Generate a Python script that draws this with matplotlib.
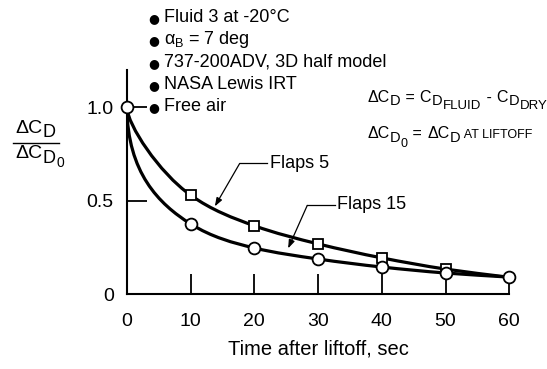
import matplotlib
matplotlib.use("Agg")
import matplotlib.pyplot as plt
from matplotlib.path import Path
from matplotlib.patches import PathPatch
from matplotlib.lines import Line2D

plt.rcParams["font.family"] = ["Liberation Sans", "DejaVu Sans"]
plt.rcParams["mathtext.fontset"] = "custom"
plt.rcParams["mathtext.rm"] = "Liberation Sans"
plt.rcParams["mathtext.it"] = "Liberation Sans"

# data
time_s = [0, 10, 20, 30, 40, 50, 60]
flaps5 = [1.0, 0.53, 0.366, 0.269, 0.194, 0.134, 0.09]
flaps15 = [1.0, 0.376, 0.247, 0.188, 0.145, 0.113, 0.091]
x_ticks = [0, 10, 20, 30, 40, 50, 60]
y_ticks = [0, 0.5, 1.0]
y_ticklabels = ["0", "0.5", "1.0"]
notes = ["Fluid 3 at -20°C", r"$\alpha_B$ = 7 deg", "737-200ADV, 3D half model",
         "NASA Lewis IRT", "Free air"]

W, H = 547, 369


def smooth_path(x, y, bend):
    """Bezier curve through the points; steep first segment like the hand-drawn original."""
    n = len(x)
    d = [(y[i + 1] - y[i]) / (x[i + 1] - x[i]) for i in range(n - 1)]
    m = [d[0]] + [2 * d[i - 1] * d[i] / (d[i - 1] + d[i]) for i in range(1, n - 1)] + [d[-1]]
    verts, codes = [(x[0], y[0])], [Path.MOVETO]
    for i in range(n - 1):
        h = x[i + 1] - x[i]
        if i == 0:
            c1 = (x[0] + 0.01 * h, y[0] + bend * (y[1] - y[0]))
            c2 = (x[1] - 0.5 * h, y[1] - 0.5 * h * m[1])
        else:
            c1 = (x[i] + h / 3, y[i] + h / 3 * m[i])
            c2 = (x[i + 1] - h / 3, y[i + 1] - h / 3 * m[i + 1])
        verts += [c1, c2, (x[i + 1], y[i + 1])]
        codes += [Path.CURVE4] * 3
    return Path(verts, codes)


def runs(x, base, pieces):
    """Write text pieces one after another; x, base and offsets in pixels from top-left."""
    r = fig.canvas.get_renderer()
    for s, size, dy in pieces:
        t = fig.text(x / W, 1 - (base + dy) / H, s, fontsize=size, va="baseline")
        x = t.get_window_extent(r).x1 + 0.5


fig = plt.figure(figsize=(W / 100, H / 100), dpi=100)
ax = fig.add_axes([0.232, 0.203, 0.699, 0.607])

for ys, bend in ((flaps5, 0.2), (flaps15, 0.56)):
    ax.add_patch(PathPatch(smooth_path(time_s, ys, bend), fill=False, lw=2.3,
                           color="black", capstyle="round", zorder=2))

ax.plot(time_s, flaps5, ls="none", marker="s", ms=7.5, mfc="white", mec="black",
        mew=1.3, markevery=[1, 2, 3, 4, 5], zorder=3, clip_on=False)
ax.plot(time_s, flaps15, ls="none", marker="o", ms=8.5, mfc="white", mec="black",
        mew=1.3, zorder=4, clip_on=False)

ax.set_xlim(0, 60)
ax.set_ylim(0, 1.2)
ax.spines[["top", "right"]].set_visible(False)
ax.spines[["left", "bottom"]].set_linewidth(1.5)
ax.set_xticks(x_ticks)
ax.set_yticks(y_ticks)
ax.set_yticklabels(y_ticklabels)
ax.tick_params(direction="in", length=14.5, width=1.3, labelsize=14)
ax.tick_params(axis="x", pad=13.5)
ax.tick_params(axis="y", pad=9.5)
ax.set_xlabel("Time after liftoff, sec", fontsize=14.5, labelpad=7)

# y label as a stacked fraction
runs(15, 133, [("ΔC", 14, 0), ("D", 13, 4)])
runs(15, 158, [("ΔC", 14, 0), ("D", 13, 5), ("0", 10, 9)])
fig.add_artist(Line2D([13 / W, 59 / W], [1 - 143 / H, 1 - 143 / H], color="black", lw=1.0))

for k, s in enumerate(notes):
    y = 0.953 - k * 0.0605
    fig.text(148 / W, y - 0.003, "\u25cf", fontsize=9, family="DejaVu Sans", va="center")
    fig.text(164 / W, y, s, fontsize=13, va="center")

runs(367, 102, [("ΔC", 11.5, 0), ("D", 10.5, 3), (" = ", 11.5, 0), ("C", 11.5, 0),
                ("D", 10.5, 3), ("FLUID", 9.5, 7), (" - ", 11.5, 0), ("C", 11.5, 0),
                ("D", 10.5, 3), ("DRY", 9.5, 7)])
runs(367, 138, [("ΔC", 11.5, 0), ("D", 10.5, 4), ("0", 9, 9), (" = ", 11.5, 0),
                ("ΔC", 11.5, 0), ("D", 10.5, 4), (" AT LIFTOFF", 9, 0)])

arrow = dict(arrowstyle="-|>,head_length=0.5,head_width=0.18", color="black", lw=0.9,
             shrinkA=0, shrinkB=0)
ax.plot([17.7, 22.0], [0.70, 0.70], color="black", lw=0.9)
ax.annotate("", xy=(13.8, 0.47), xytext=(17.7, 0.70), arrowprops=arrow)
ax.text(22.4, 0.70, "Flaps 5", fontsize=13, va="center")
ax.plot([28.3, 32.6], [0.475, 0.475], color="black", lw=0.9)
ax.annotate("", xy=(25.3, 0.245), xytext=(28.3, 0.475), arrowprops=arrow)
ax.text(32.9, 0.478, "Flaps 15", fontsize=13, va="center")

fig.savefig("out.png", dpi=100)
